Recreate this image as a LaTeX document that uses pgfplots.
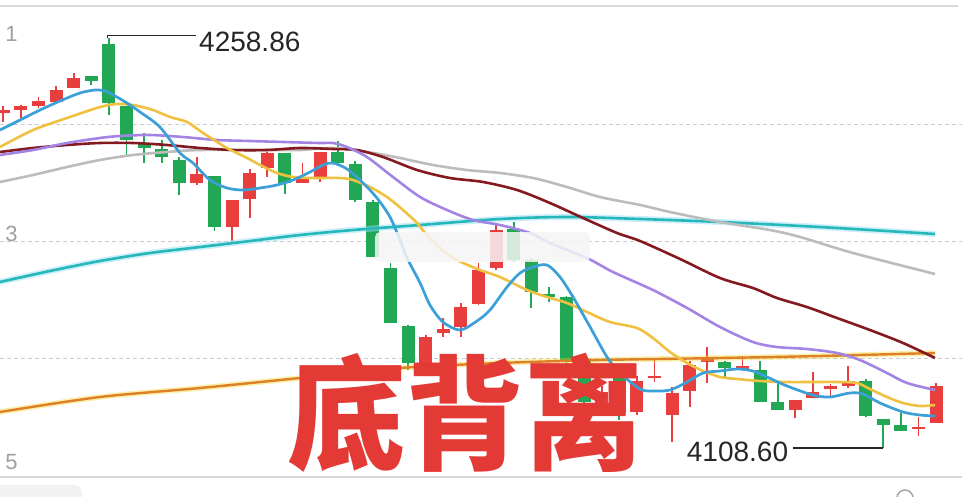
\documentclass[border=0pt]{standalone}
\usepackage{pgfplots}
\pgfplotsset{compat=1.18}
\usepackage{pgfplotstable}
\usepackage{graphicx}
\usepackage{fontspec}
\setmainfont{Liberation Sans}
\newfontfamily\cjk{Noto Sans CJK SC}

\definecolor{cred}{RGB}{232,62,62}
\definecolor{cgreen}{RGB}{34,168,84}
\definecolor{mablue}{RGB}{58,160,215}
\definecolor{mayellow}{RGB}{240,192,64}
\definecolor{mapurple}{RGB}{163,132,228}
\definecolor{mamaroon}{RGB}{132,26,32}
\definecolor{magray}{RGB}{188,188,188}
\definecolor{macyan}{RGB}{38,184,184}
\definecolor{maorange}{RGB}{222,128,40}
\definecolor{txtred}{RGB}{228,58,54}

% up (red) candles: index open high low close
\pgfplotstableread{
i o h l c
0 4231.38 4233.94 4228.08 4232.47
1 4232.47 4234.31 4229.54 4233.94
2 4233.94 4237.24 4233.21 4235.77
3 4235.41 4241.27 4235.04 4239.80
4 4240.54 4246.04 4240.54 4244.20
11 4205.72 4215.25 4204.99 4209.02
13 4189.59 4199.49 4184.46 4199.49
14 4199.86 4210.85 4192.89 4209.39
15 4211.22 4217.08 4207.92 4216.72
17 4205.72 4213.05 4205.72 4207.55
18 4207.92 4217.08 4206.09 4217.08
24 4139.75 4150.01 4136.45 4149.28
25 4150.75 4156.24 4149.28 4152.21
26 4152.94 4161.74 4149.28 4160.27
27 4161.37 4176.40 4161.01 4173.83
28 4174.57 4191.06 4173.83 4188.49
34 4124.36 4131.32 4120.33 4129.12
36 4121.79 4134.99 4120.69 4133.15
37 4134.25 4141.22 4132.79 4134.99
38 4120.69 4130.95 4110.80 4128.76
39 4129.49 4140.48 4123.62 4139.02
40 4140.12 4145.61 4132.42 4141.22
42 4137.18 4142.32 4137.18 4138.65
45 4122.52 4126.19 4119.59 4126.19
46 4126.92 4136.45 4126.92 4129.12
47 4130.22 4132.05 4126.92 4131.32
48 4131.32 4138.65 4130.59 4133.15
52 4115.56 4119.96 4113.00 4116.29
53 4117.76 4132.42 4117.76 4131.32
}\redtab

% down (green) candles
\pgfplotstableread{
i o h l c
5 4244.94 4244.94 4241.64 4243.10
6 4256.66 4258.86 4230.64 4235.04
7 4233.94 4235.04 4215.62 4221.48
8 4220.38 4224.05 4213.05 4218.55
9 4218.18 4221.48 4213.05 4215.25
10 4214.15 4215.25 4201.32 4205.72
12 4208.29 4208.29 4188.13 4189.59
16 4216.72 4216.72 4201.69 4205.72
19 4217.08 4221.11 4212.32 4213.05
20 4212.68 4213.78 4198.76 4199.49
21 4198.76 4199.49 4178.60 4178.60
22 4174.57 4176.40 4154.41 4154.41
23 4153.31 4153.68 4137.18 4139.75
29 4188.86 4191.43 4176.77 4177.50
30 4177.50 4178.23 4159.91 4165.77
31 4165.04 4167.60 4162.11 4163.94
32 4163.94 4164.31 4139.02 4140.12
33 4140.85 4142.32 4123.26 4125.46
35 4135.72 4137.18 4118.86 4121.43
41 4140.12 4140.48 4134.25 4137.92
43 4137.18 4140.48 4125.46 4125.46
44 4125.46 4132.42 4122.52 4122.52
49 4133.15 4133.89 4119.96 4120.33
50 4119.23 4119.23 4108.60 4117.03
51 4117.03 4121.43 4114.83 4114.83
}\greentab

\begin{document}
\begin{tikzpicture}
\useasboundingbox (0,0) rectangle (962pt,496pt);
\begin{axis}[
  scale only axis, width=962pt, height=496pt,
  at={(0,0)}, anchor=south west,
  xmin=-0.1875, xmax=54.47, ymin=4091.01, ymax=4272.79,
  axis line style={draw=none},
  xtick=\empty, ytick={4141.58,4184.10,4227.34}, yticklabels={},
  major tick length=0pt,
  ymajorgrids, major grid style={gray!40, line width=1pt, dash pattern=on 4pt off 3pt},
  clip=false,
  wick/.style={draw=none, mark=none, forget plot, error bars/.cd, y dir=both, y explicit, error mark=none,
     error bar style={line width=1.9pt, draw=#1}},
  body/.style={draw=none, mark=none, forget plot, error bars/.cd, y dir=both, y explicit, error mark=none,
     error bar style={line width=13pt, draw=#1}},
]
% frame lines
\draw[gray!30, line width=2pt] (rel axis cs:0,0.988) -- (rel axis cs:0.996,0.988);
\draw[gray!30, line width=2pt] (rel axis cs:0,0.038) -- (rel axis cs:1,0.038);

% wicks
\addplot[wick=cred] table[x=i, y expr={(\thisrow{h}+\thisrow{l})/2}, y error expr={(\thisrow{h}-\thisrow{l})/2}] {\redtab};
\addplot[wick=cgreen] table[x=i, y expr={(\thisrow{h}+\thisrow{l})/2}, y error expr={(\thisrow{h}-\thisrow{l})/2}] {\greentab};
% bodies
\addplot[body=cred] table[x=i, y expr={(\thisrow{o}+\thisrow{c})/2}, y error expr={abs(\thisrow{o}-\thisrow{c})/2}] {\redtab};
\addplot[body=cgreen] table[x=i, y expr={(\thisrow{o}+\thisrow{c})/2}, y error expr={abs(\thisrow{o}-\thisrow{c})/2}] {\greentab};

% MA250 (orange) with halo
\addplot[smooth, line width=5.5pt, draw=maorange!35!yellow, opacity=0.35] coordinates {(-0.19,4121.79) (5.49,4127.29) (11.18,4130.59) (16.86,4134.25) (22.54,4137.92) (28.22,4139.75) (33.90,4140.85) (40.72,4141.58) (46.40,4142.32) (52.94,4143.42)};
\addplot[smooth, line width=2.4pt, draw=maorange] coordinates {(-0.19,4121.79) (5.49,4127.29) (11.18,4130.59) (16.86,4134.25) (22.54,4137.92) (28.22,4139.75) (33.90,4140.85) (40.72,4141.58) (46.40,4142.32) (52.94,4143.42)};
% MA120 (cyan) with halo
\addplot[smooth, line width=6pt, draw=cyan!40, opacity=0.5] coordinates {(-0.19,4169.44) (2.65,4173.47) (5.49,4177.13) (8.34,4180.07) (11.18,4182.26) (14.02,4184.46) (16.86,4186.66) (19.87,4188.49) (23.68,4190.33) (28.22,4192.53) (32.03,4193.26) (36.18,4192.53) (40.72,4191.43) (46.40,4189.59) (52.94,4187.03)};
\addplot[smooth, line width=2.6pt, draw=macyan] coordinates {(-0.19,4169.44) (2.65,4173.47) (5.49,4177.13) (8.34,4180.07) (11.18,4182.26) (14.02,4184.46) (16.86,4186.66) (19.87,4188.49) (23.68,4190.33) (28.22,4192.53) (32.03,4193.26) (36.18,4192.53) (40.72,4191.43) (46.40,4189.59) (52.94,4187.03)};
% MA60 (gray)
\addplot[smooth, line width=2.6pt, draw=magray] coordinates {(-0.19,4206.09) (1.69,4208.65) (3.62,4211.58) (5.49,4214.15) (7.37,4215.98) (9.30,4217.08) (11.18,4217.81) (14.98,4217.81) (16.86,4217.81) (18.73,4218.55) (20.66,4217.08) (22.54,4214.88) (24.41,4212.32) (26.35,4210.48) (28.22,4209.39) (30.10,4207.55) (32.03,4204.25) (33.90,4200.59) (36.18,4197.66) (37.88,4195.09) (40.72,4191.43) (43.56,4188.49) (45.27,4185.93) (48.28,4180.07) (52.94,4172.37)};
% MA30 (maroon)
\addplot[smooth, line width=2.6pt, draw=mamaroon] coordinates {(-0.19,4217.08) (1.69,4218.55) (3.62,4219.65) (5.49,4220.38) (7.37,4220.38) (9.30,4219.65) (11.18,4218.55) (13.05,4217.81) (14.98,4217.81) (16.86,4218.55) (18.73,4218.18) (20.09,4217.81) (21.57,4215.25) (23.51,4210.48) (25.38,4207.55) (27.26,4206.09) (29.19,4203.15) (31.06,4198.39) (32.94,4192.89) (34.87,4187.40) (36.18,4184.46) (38.45,4177.87) (40.72,4170.90) (42.59,4167.24) (43.96,4163.57) (45.66,4160.27) (47.37,4156.24) (49.24,4151.84) (51.12,4147.08) (52.94,4141.58)};
% MA20 (purple)
\addplot[smooth, line width=2.6pt, draw=mapurple] coordinates {(-0.19,4215.98) (1.69,4217.81) (3.62,4220.38) (5.49,4222.21) (6.63,4222.95) (8.34,4223.31) (10.21,4222.58) (12.14,4221.48) (14.02,4221.11) (15.89,4220.75) (17.99,4220.38) (18.73,4220.38) (19.53,4218.91) (20.66,4215.25) (22.14,4207.92) (23.68,4200.59) (25.21,4195.82) (26.69,4192.16) (28.22,4190.33) (29.92,4187.40) (31.06,4183.73) (33.16,4178.23) (34.64,4173.10) (36.91,4166.50) (38.85,4159.91) (40.72,4152.94) (42.59,4147.45) (43.96,4145.61) (45.66,4144.88) (47.37,4143.42) (48.67,4140.85) (50.21,4136.09) (51.35,4132.42) (52.94,4129.85)};
% MA10 (yellow)
\addplot[smooth, line width=2.6pt, draw=mayellow] coordinates {(-0.19,4218.91) (1.69,4225.14) (3.62,4229.54) (5.49,4233.57) (6.46,4234.67) (7.37,4234.31) (8.51,4232.47) (9.47,4229.91) (10.44,4228.08) (11.35,4224.05) (12.71,4218.55) (13.85,4214.88) (14.59,4212.32) (15.55,4209.39) (16.46,4207.92) (17.43,4207.55) (19.13,4207.55) (19.87,4206.82) (20.84,4204.25) (21.80,4200.59) (22.71,4195.82) (23.51,4191.06) (23.96,4187.40) (24.81,4181.90) (25.78,4177.50) (27.09,4173.83) (28.22,4171.27) (29.76,4166.50) (30.89,4163.94) (32.03,4161.74) (33.16,4158.44) (34.47,4154.78) (36.00,4152.58) (36.91,4148.91) (37.88,4143.78) (38.85,4139.75) (39.76,4136.82) (40.72,4134.62) (41.69,4133.89) (42.99,4133.15) (44.53,4132.79) (46.00,4132.79) (47.37,4132.79) (48.50,4132.42) (49.24,4130.22) (50.21,4127.29) (51.12,4125.09) (52.08,4123.99) (52.94,4124.36)};
% MA5 (blue)
\addplot[smooth, line width=2.7pt, draw=mablue] coordinates {(-0.19,4225.14) (0.95,4228.81) (2.09,4232.47) (3.22,4235.77) (4.36,4238.71) (5.21,4239.80) (5.78,4239.44) (6.35,4237.61) (7.03,4235.04) (7.77,4231.74) (8.90,4226.24) (10.04,4216.72) (10.78,4213.05) (11.74,4206.82) (12.71,4203.89) (13.62,4203.15) (14.59,4203.89) (15.55,4204.99) (16.46,4206.82) (17.43,4209.75) (18.16,4212.32) (18.73,4213.05) (19.53,4210.85) (20.44,4205.72) (21.23,4200.22) (21.97,4193.26) (22.54,4184.83) (22.94,4178.23) (23.68,4169.07) (24.24,4161.01) (24.98,4154.78) (25.95,4151.84) (26.91,4155.14) (27.65,4159.17) (28.62,4167.60) (29.36,4172.74) (30.10,4174.93) (30.89,4175.67) (31.63,4171.27) (32.37,4163.94) (33.34,4152.94) (34.30,4141.95) (35.04,4136.09) (36.18,4130.22) (36.91,4129.49) (37.88,4129.85) (38.85,4132.79) (39.76,4136.09) (40.72,4136.82) (41.69,4137.55) (42.59,4136.82) (43.39,4134.62) (44.53,4131.32) (45.99,4128.02) (46.97,4127.29) (48.10,4128.76) (48.84,4128.39) (49.81,4125.09) (51.12,4121.79) (52.08,4120.69) (52.94,4120.33)};

% blurred overlay box
\fill[white!92!gray, opacity=0.85, rounded corners=5pt] (axis cs:21.12,4187.76) rectangle (axis cs:33.34,4176.77);

% max / min annotations
\draw[black!85, line width=1.6pt] (axis cs:5.91,4258.86) -- (axis cs:5.91,4259.78) -- (axis cs:10.95,4259.78);
\node[anchor=base west, inner sep=0pt, text=black!85, font=\fontsize{28}{28}\selectfont] at (axis cs:11.12,4253.84) {4258.86};
\draw[black!85, line width=1.6pt] (axis cs:49.98,4108.60) -- (axis cs:44.87,4108.60);
\node[anchor=base east, inner sep=0pt, text=black!85, font=\fontsize{28}{28}\selectfont] at (axis cs:44.60,4103.58) {4108.60};

% left price labels (only their last digit is in view)
\node[anchor=base east, inner sep=0pt, text=gray!75, font=\fontsize{22}{22}\selectfont] at (axis cs:0.83,4257.40) {1};
\node[anchor=base east, inner sep=0pt, text=gray!75, font=\fontsize{22}{22}\selectfont] at (axis cs:0.83,4184.10) {3};
\node[anchor=base east, inner sep=0pt, text=gray!75, font=\fontsize{22}{22}\selectfont] at (axis cs:0.83,4100.54) {5};

% big caption
\node[anchor=base west, inner sep=0pt, text=txtred, font=\cjk\bfseries\fontsize{124}{124}\selectfont] at (axis cs:16.12,4104.20) {\scalebox{0.955}[1]{底背离}};
\end{axis}
\fill[gray!10, rounded corners=8pt] (-10pt,-10pt) rectangle (82pt,11pt);
\draw[gray!70, line width=1.5pt] (897pt,-2pt) arc (180:0:8pt);
\end{tikzpicture}
\end{document}
